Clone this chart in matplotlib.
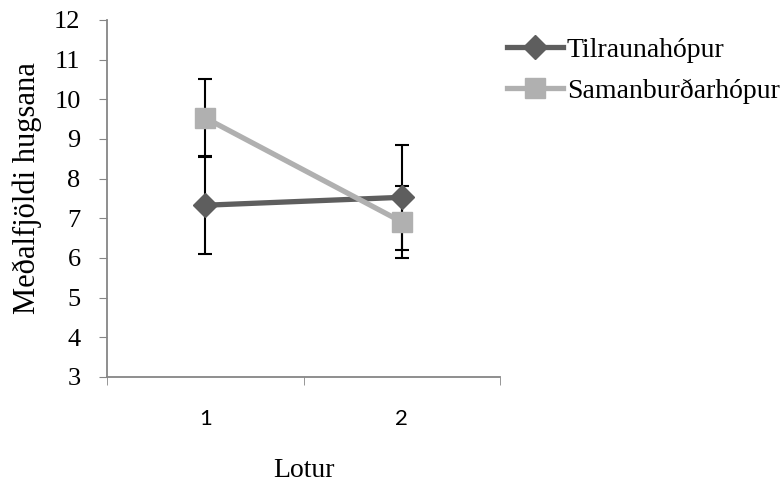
import matplotlib.pyplot as plt
import numpy as np

rounds = ["1", "2"]
tilraun = [7.33, 7.53]
tilraun_err = [1.22, 1.32]
saman = [9.53, 6.91]
saman_err = [0.97, 0.90]

fig = plt.figure(figsize=(7.84, 4.83), dpi=100)
ax = fig.add_axes([0.1365, 0.2195, 0.5015, 0.7391])

x = np.arange(1, len(rounds) + 1)
serif = "Liberation Serif"

ax.errorbar(x, tilraun, yerr=tilraun_err, fmt="none", ecolor="black",
            elinewidth=1.5, capsize=5, capthick=1.5, zorder=2)
ax.errorbar(x, saman, yerr=saman_err, fmt="none", ecolor="black",
            elinewidth=1.5, capsize=5, capthick=1.5, zorder=2)
ax.plot(x, tilraun, color="#5E5E5E", lw=3.8, marker="D", markersize=12,
        label="Tilraunahópur", zorder=3)
ax.plot(x, saman, color="#B0B0B0", lw=3.8, marker="s", markersize=14,
        label="Samanburðarhópur", zorder=4)

ax.set_xlim(0.5, 2.5)
ax.set_ylim(3, 12)
ax.set_yticks(range(3, 13))
ax.set_xticks(x)
ax.set_xticklabels(rounds, fontsize=16, family="Lato")
ax.set_xticks([0.5, 1.5, 2.5], minor=True)
ax.tick_params(axis="x", which="major", length=0, pad=23)
ax.tick_params(axis="x", which="minor", length=6, color="#868686", direction="out")
ax.tick_params(axis="y", length=6, color="#868686", direction="out", pad=13)
for lbl in ax.get_yticklabels():
    lbl.set_family(serif)
    lbl.set_fontsize(19)

for s in ["top", "right"]:
    ax.spines[s].set_visible(False)
for s in ["left", "bottom"]:
    ax.spines[s].set_color("#868686")
    ax.spines[s].set_linewidth(1.3)

ax.set_ylabel("Meðalfjöldi hugsana", family=serif, fontsize=22)
ax.yaxis.set_label_coords(-0.166, 0.53)
ax.set_xlabel("Lotur", family=serif, fontsize=20, labelpad=21)

ax.legend(loc="upper left", bbox_to_anchor=(0.6467, 0.922),
          bbox_transform=fig.transFigure, frameon=False,
          prop={"family": serif, "size": 20}, handlelength=2.0,
          handletextpad=0.15, labelspacing=0.54, borderaxespad=0, borderpad=0)

fig.savefig("out.png", dpi=100)
